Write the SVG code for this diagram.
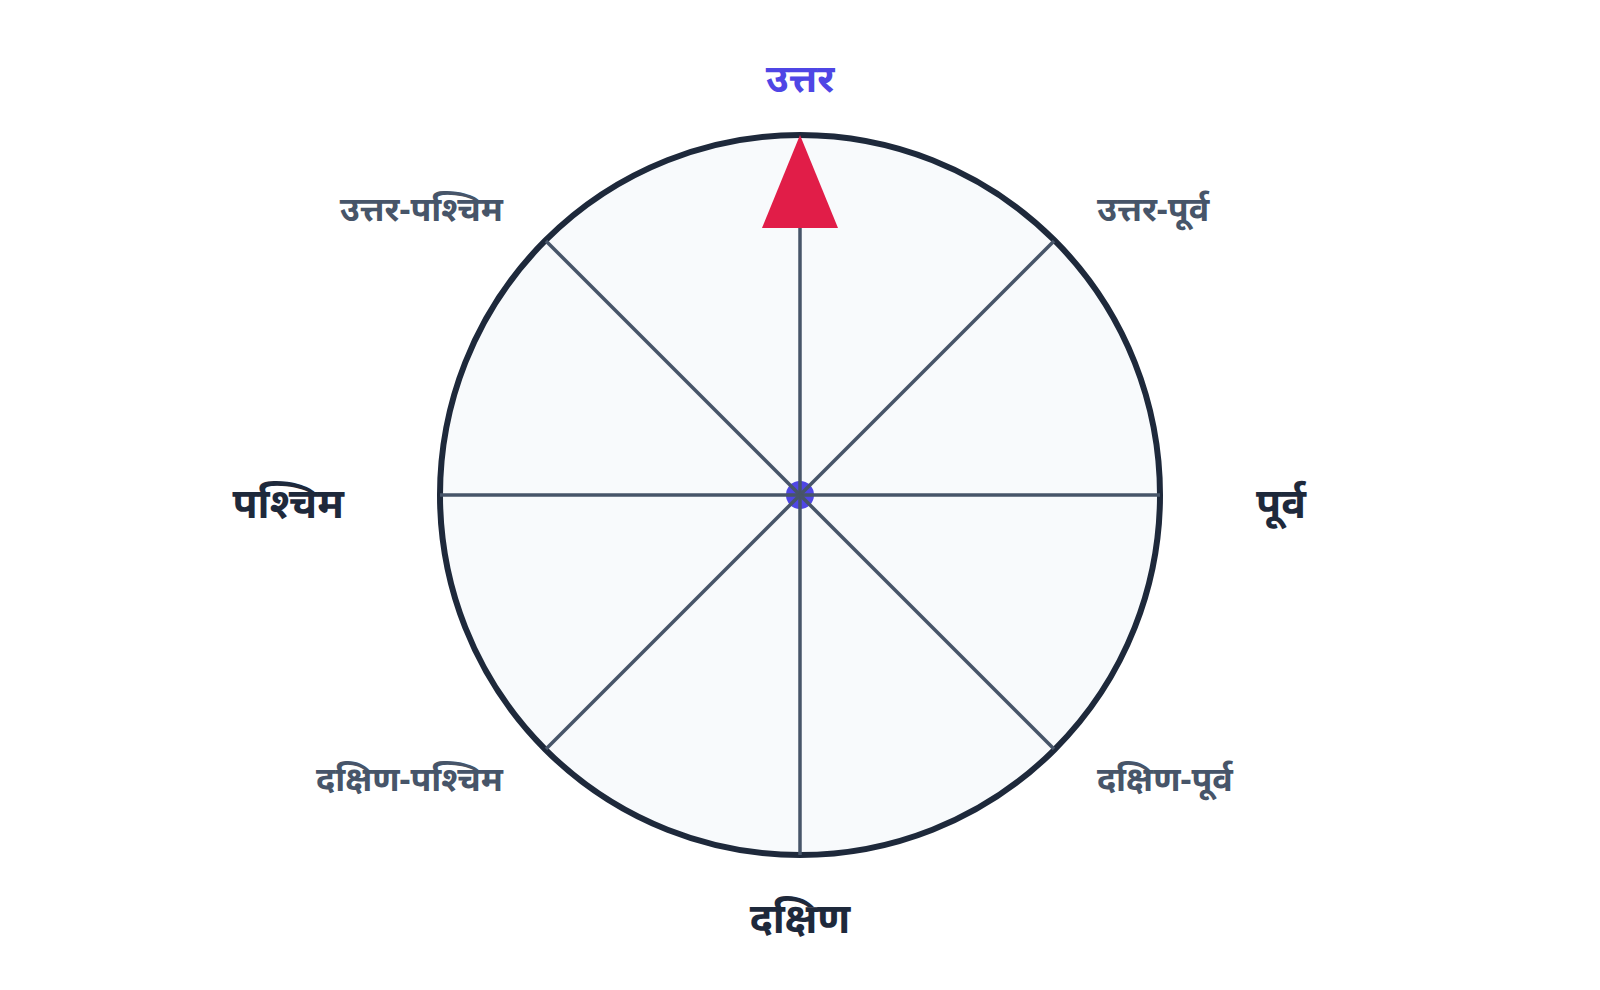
<svg xmlns="http://www.w3.org/2000/svg" width="1600" height="990" viewBox="0 0 1600 990">
<style>
text { font-family: "Noto Sans", "Noto Sans Devanagari", sans-serif; font-weight: 700; }
.main { font-size: 41px; fill: #1e293b; }
.diag { font-size: 34px; fill: #475569; }
.north { font-size: 39px; fill: #4f46e5; }
.spoke { stroke: #475569; stroke-width: 3.5; stroke-linecap: butt; fill: none; }
</style>
<rect width="1600" height="990" fill="#ffffff"/>
<g id="dial">
<circle cx="800" cy="495" r="360" fill="#f8fafc" stroke="#1e293b" stroke-width="6"/>
</g>
<g id="hub">
<circle cx="800" cy="495" r="14" fill="#4f46e5"/>
</g>
<g id="spokes">
<line class="spoke" x1="800" y1="495" x2="800" y2="228"/>
<line class="spoke" x1="800" y1="495" x2="800" y2="855"/>
<line class="spoke" x1="800" y1="495" x2="440" y2="495"/>
<line class="spoke" x1="800" y1="495" x2="1160" y2="495"/>
<line class="spoke" x1="800" y1="495" x2="546" y2="241"/>
<line class="spoke" x1="800" y1="495" x2="1054" y2="241"/>
<line class="spoke" x1="800" y1="495" x2="546" y2="749"/>
<line class="spoke" x1="800" y1="495" x2="1054" y2="749"/>
</g>
<g id="needle">
<polygon points="800,135 762,228 838,228" fill="#e11d48"/>
</g>
<g id="label-n"><text class="north" x="800" y="92" text-anchor="middle">उत्तर</text></g>
<g id="label-s"><text class="main" x="800" y="933" text-anchor="middle">दक्षिण</text></g>
<g id="label-w"><text class="main" x="344" y="518" text-anchor="end">पश्चिम</text></g>
<g id="label-e"><text class="main" x="1256" y="518" text-anchor="start">पूर्व</text></g>
<g id="label-nw"><text class="diag" x="503" y="221" text-anchor="end">उत्तर-पश्चिम</text></g>
<g id="label-ne"><text class="diag" x="1097" y="221" text-anchor="start">उत्तर-पूर्व</text></g>
<g id="label-sw"><text class="diag" x="503" y="791" text-anchor="end">दक्षिण-पश्चिम</text></g>
<g id="label-se"><text class="diag" x="1097" y="791" text-anchor="start">दक्षिण-पूर्व</text></g>
</svg>
